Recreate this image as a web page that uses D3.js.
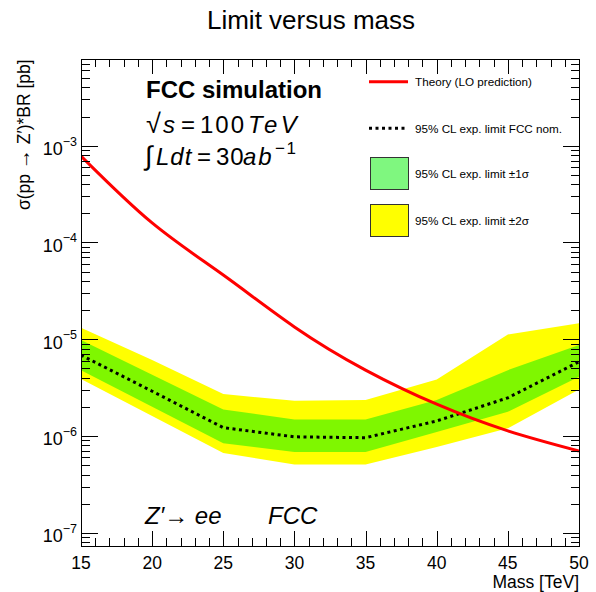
<!DOCTYPE html>
<html>
<head>
<meta charset="utf-8">
<script src="https://cdn.jsdelivr.net/npm/d3@7"></script>
<style>
  html, body { margin: 0; padding: 0; background: #fff; }
  svg { display: block; font-family: "Liberation Sans", Arial, Helvetica, sans-serif; }
</style>
</head>
<body>
<svg id="chart" width="596" height="592"></svg>
<script>
// ---------------- data ----------------
const mass      = [15, 20, 25, 30, 35, 40, 45, 50];
const theory    = [7.8e-4, 1.59e-4, 4.6e-5, 1.34e-5, 4.8e-6, 2.13e-6, 1.13e-6, 7.0e-7];
const expMedian = [6.85e-6, 2.90e-6, 1.22e-6, 9.8e-7, 9.6e-7, 1.43e-6, 2.48e-6, 5.84e-6];
const expUp1    = [9.8e-6, 4.29e-6, 1.88e-6, 1.48e-6, 1.48e-6, 2.35e-6, 4.79e-6, 8.69e-6];
const expLo1    = [4.79e-6, 2.01e-6, 8.43e-7, 6.85e-7, 6.85e-7, 1.10e-6, 1.78e-6, 4.09e-6];
const expUp2    = [1.31e-5, 6.08e-6, 2.71e-6, 2.31e-6, 2.35e-6, 3.84e-6, 1.12e-5, 1.46e-5];
const expLo2    = [3.87e-6, 1.61e-6, 6.68e-7, 5.07e-7, 5.07e-7, 7.71e-7, 1.20e-6, 3.03e-6];
const xTicks    = [15, 20, 25, 30, 35, 40, 45, 50];
const yTickExps = [-7, -6, -5, -4, -3];
const legendLabels = ["Theory (LO prediction)", "95% CL exp. limit FCC nom.",
                      "95% CL exp. limit \u00B11\u03C3", "95% CL exp. limit \u00B12\u03C3"];

// ---------------- layout ----------------
const W = 596, H = 592;
const L = 81, R = 579, T = 59.3, B = 546;
const svg = d3.select("#chart");

const x = d3.scaleLinear().domain([15, 50]).range([L, R]);
const y = d3.scaleLog().domain([7.3e-8, 7.8e-3]).range([B, T]);

const defs = svg.append("defs");
defs.append("clipPath").attr("id", "frameClip")
  .append("rect").attr("x", L).attr("y", T).attr("width", R - L).attr("height", B - T);

const GREEN = "#00f000", GREEN_OP = 0.5;

// ---------------- title ----------------
svg.append("text").attr("x", 311).attr("y", 28.5)
  .attr("text-anchor", "middle").attr("font-size", 26).attr("fill", "#000")
  .text("Limit versus mass");

// ---------------- bands & lines ----------------
const g = svg.append("g").attr("clip-path", "url(#frameClip)");
const idx = d3.range(mass.length);

const band = (lo, hi) => d3.area()
  .x(i => x(mass[i])).y0(i => y(lo[i])).y1(i => y(hi[i]));

g.append("path").attr("d", band(expLo2, expUp2)(idx)).attr("fill", "#ffff00");
g.append("path").attr("d", band(expLo1, expUp1)(idx)).attr("fill", GREEN).attr("fill-opacity", GREEN_OP);

g.append("path")
  .attr("d", d3.line().x(i => x(mass[i])).y(i => y(expMedian[i]))(idx))
  .attr("fill", "none").attr("stroke", "#000").attr("stroke-width", 3)
  .attr("stroke-dasharray", "3,3.5");

g.append("path")
  .attr("d", d3.line().curve(d3.curveNatural).x(i => x(mass[i])).y(i => y(theory[i]))(idx))
  .attr("fill", "none").attr("stroke", "#ff0000").attr("stroke-width", 3);

// ---------------- frame & ticks ----------------
const axG = svg.append("g").attr("stroke", "#000").attr("stroke-width", 1).attr("shape-rendering", "crispEdges");
axG.append("rect").attr("x", L).attr("y", T).attr("width", R - L).attr("height", B - T).attr("fill", "none");

// x ticks (bottom + top)
d3.range(15, 51, 1).forEach(v => {
  const major = xTicks.includes(v);
  const len = major ? 15 : 8;
  const px = Math.round(x(v)) + 0.5;
  axG.append("line").attr("x1", px).attr("x2", px).attr("y1", B).attr("y2", B - len);
  axG.append("line").attr("x1", px).attr("x2", px).attr("y1", T).attr("y2", T + len);
});
// y ticks (left + right)
const [yMin, yMax] = y.domain();
for (let e = -8; e <= -3; e++) {
  for (let k = 1; k <= 9; k++) {
    const v = k * Math.pow(10, e);
    if (v < yMin || v > yMax) continue;
    const len = k === 1 ? 16.5 : 8.5;
    const py = Math.round(y(v)) + 0.5;
    axG.append("line").attr("x1", L).attr("x2", L + len).attr("y1", py).attr("y2", py);
    axG.append("line").attr("x1", R).attr("x2", R - len).attr("y1", py).attr("y2", py);
  }
}

// x tick labels
xTicks.forEach(v => {
  svg.append("text").attr("x", x(v)).attr("y", 569).attr("text-anchor", "middle")
    .attr("font-size", 17.5).text(v);
});
// y tick labels
yTickExps.forEach(e => {
  const t = svg.append("text").attr("x", 77).attr("y", y(Math.pow(10, e)) + 9.4)
    .attr("text-anchor", "end").attr("font-size", 18);
  t.append("tspan").text("10");
  t.append("tspan").attr("dy", -9.5).attr("font-size", 12.5).text("\u2212" + (-e));
});

// axis titles
svg.append("text").attr("x", R).attr("y", 588).attr("text-anchor", "end")
  .attr("font-size", 17.5).text("Mass [TeV]");
const yl = svg.append("text").attr("transform", `translate(30,${T}) rotate(-90)`)
  .attr("text-anchor", "end").attr("font-size", 17.5);
yl.append("tspan").text("\u03C3(pp ");
yl.append("tspan").attr("font-size", 20).text("\u2192");
yl.append("tspan").text(" Z\u2032)*BR [pb]");

// ---------------- legend ----------------
const lg = svg.append("g");
lg.append("line").attr("x1", 369).attr("x2", 408).attr("y1", 81.7).attr("y2", 81.7)
  .attr("stroke", "#ff0000").attr("stroke-width", 3);
lg.append("line").attr("x1", 369).attr("x2", 407).attr("y1", 128.3).attr("y2", 128.3)
  .attr("stroke", "#000").attr("stroke-width", 3).attr("stroke-dasharray", "3,3.5");
lg.append("rect").attr("x", 370.5).attr("y", 157.5).attr("width", 38).attr("height", 32)
  .attr("fill", "#ffffff").attr("stroke", "none");
lg.append("rect").attr("x", 370.5).attr("y", 157.5).attr("width", 38).attr("height", 32)
  .attr("fill", GREEN).attr("fill-opacity", GREEN_OP).attr("stroke", "#333").attr("stroke-width", 1);
lg.append("rect").attr("x", 370.5).attr("y", 204.5).attr("width", 38).attr("height", 32)
  .attr("fill", "#ffff00").attr("stroke", "#333").attr("stroke-width", 1);
[86, 132.5, 178, 224.5].forEach((yy, i) => {
  lg.append("text").attr("x", 415).attr("y", yy).attr("font-size", 11.7).text(legendLabels[i]);
});

// ---------------- annotations ----------------
svg.append("text").attr("x", 146).attr("y", 98).attr("font-size", 24).attr("font-weight", "bold")
  .text("FCC simulation");

const t1 = svg.append("text").attr("y", 133).attr("font-size", 24);
t1.append("tspan").attr("x", 146).attr("font-size", 27).text("\u221A");
t1.append("tspan").attr("x", 163).attr("font-style", "italic").text("s");
t1.append("tspan").attr("x", 181).text("=");
t1.append("tspan").attr("x", 200).attr("letter-spacing", 2).text("100");
t1.append("tspan").attr("x", 248).attr("font-style", "italic").attr("letter-spacing", 3.5).text("TeV");

const t2 = svg.append("text").attr("y", 164.5).attr("font-size", 24);
t2.append("tspan").attr("x", 145).attr("font-size", 27).text("\u222B");
t2.append("tspan").attr("x", 156).attr("font-style", "italic").attr("letter-spacing", 1).text("Ldt");
t2.append("tspan").attr("x", 197).text("=");
t2.append("tspan").attr("x", 216).attr("letter-spacing", 1).text("30");
t2.append("tspan").attr("x", 243).attr("font-style", "italic").attr("letter-spacing", 2).text("ab");
t2.append("tspan").attr("x", 275).attr("dy", -11).attr("font-size", 17).attr("letter-spacing", 1.5).text("\u22121");

const t3 = svg.append("text").attr("x", 145).attr("y", 523.5).attr("font-size", 24).attr("font-style", "italic");
t3.append("tspan").text("Z\u2032\u2192 ee");
t3.append("tspan").attr("x", 268).text("FCC");
</script>
</body>
</html>
